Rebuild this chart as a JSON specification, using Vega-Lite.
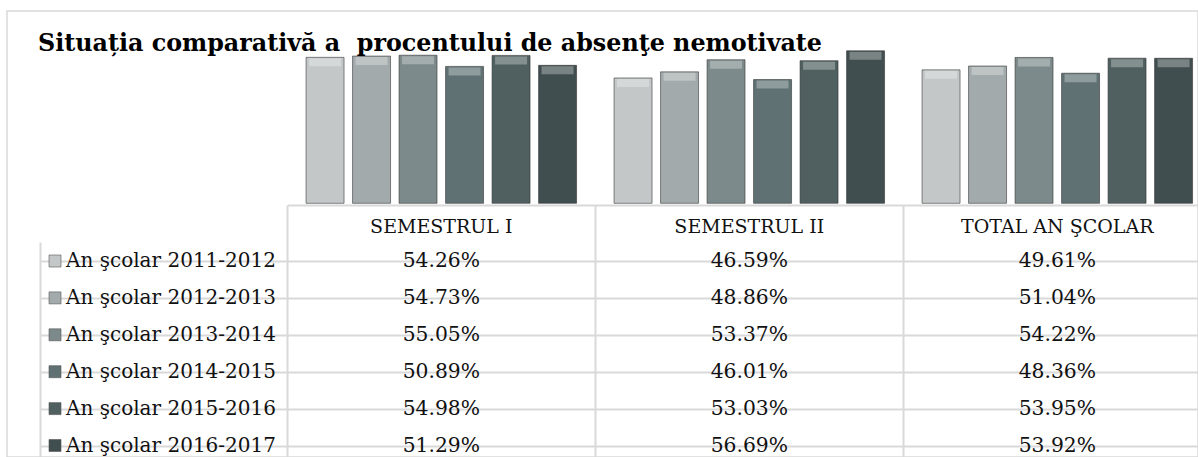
{
  "$schema": "https://vega.github.io/schema/vega-lite/v6.json",
  "width": 1191,
  "height": 446,
  "autosize": {"type": "none"},
  "padding": {"left": 7, "top": 11, "right": 0, "bottom": 0},
  "background": "white",
  "config": {"view": {"stroke": "#d9d9d9", "strokeWidth": 1.5}, "font": "DejaVu Serif"},
  "title": {
    "text": "Situația comparativă a\u00a0 procentului de absenţe nemotivate",
    "anchor": "start", "frame": "group", "orient": "top", "offset": 0,
    "baseline": "alphabetic", "dx": 31, "dy": 64,
    "font": "DejaVu Serif", "fontSize": 23.8, "fontWeight": "bold", "color": "#000000"
  },
  "data": {
    "values": [
      {"series": "An şcolar 2011-2012", "period": "SEMESTRUL I", "value": 0.5426},
      {"series": "An şcolar 2011-2012", "period": "SEMESTRUL II", "value": 0.4659},
      {"series": "An şcolar 2011-2012", "period": "TOTAL AN ŞCOLAR", "value": 0.4961},
      {"series": "An şcolar 2012-2013", "period": "SEMESTRUL I", "value": 0.5473},
      {"series": "An şcolar 2012-2013", "period": "SEMESTRUL II", "value": 0.4886},
      {"series": "An şcolar 2012-2013", "period": "TOTAL AN ŞCOLAR", "value": 0.5104},
      {"series": "An şcolar 2013-2014", "period": "SEMESTRUL I", "value": 0.5505},
      {"series": "An şcolar 2013-2014", "period": "SEMESTRUL II", "value": 0.5337},
      {"series": "An şcolar 2013-2014", "period": "TOTAL AN ŞCOLAR", "value": 0.5422},
      {"series": "An şcolar 2014-2015", "period": "SEMESTRUL I", "value": 0.5089},
      {"series": "An şcolar 2014-2015", "period": "SEMESTRUL II", "value": 0.4601},
      {"series": "An şcolar 2014-2015", "period": "TOTAL AN ŞCOLAR", "value": 0.4836},
      {"series": "An şcolar 2015-2016", "period": "SEMESTRUL I", "value": 0.5498},
      {"series": "An şcolar 2015-2016", "period": "SEMESTRUL II", "value": 0.5303},
      {"series": "An şcolar 2015-2016", "period": "TOTAL AN ŞCOLAR", "value": 0.5395},
      {"series": "An şcolar 2016-2017", "period": "SEMESTRUL I", "value": 0.5129},
      {"series": "An şcolar 2016-2017", "period": "SEMESTRUL II", "value": 0.5669},
      {"series": "An şcolar 2016-2017", "period": "TOTAL AN ŞCOLAR", "value": 0.5392}
    ]
  },
  "encoding": {
    "x": {
      "field": "period", "type": "nominal",
      "sort": ["SEMESTRUL I", "SEMESTRUL II", "TOTAL AN ŞCOLAR"],
      "scale": {"range": [280.3, 1204.3], "paddingInner": 0, "paddingOuter": 0},
      "axis": {
        "orient": "top", "offset": -194, "title": null,
        "domain": true, "domainColor": "#d9d9d9", "domainWidth": 2,
        "ticks": true, "tickColor": "#d9d9d9", "tickWidth": 2, "tickSize": -262,
        "bandPosition": 0, "labelOffset": 0, "labelAlign": "center",
        "labelBaseline": "alphabetic", "labelPadding": 235, "labelAngle": 0,
        "labelFont": "DejaVu Serif", "labelFontSize": 19, "labelColor": "#111111",
        "labelLimit": 400, "grid": false
      }
    }
  },
  "layer": [
    {
      "encoding": {
        "xOffset": {
          "field": "series", "type": "nominal",
          "scale": {"paddingInner": 0.183, "paddingOuter": 0.403}
        },
        "y": {
          "field": "value", "type": "quantitative",
          "scale": {"domain": [0, 0.6], "range": [192.3, 30.9], "nice": false, "zero": true},
          "axis": null
        }
      },
      "layer": [
        {
          "mark": {"type": "bar", "stroke": "#2e2e2e", "strokeWidth": 0.8, "strokeOpacity": 0.7},
          "encoding": {
            "color": {
              "field": "series", "type": "nominal",
              "scale": {"range": ["#c3c7c8", "#a3aaab", "#7d8a8b", "#5f7173", "#506060", "#414e4f"]},
              "legend": {
                "orient": "none", "legendX": 38, "legendY": 240, "title": null,
                "symbolType": "square", "symbolSize": 144,
                "symbolStrokeColor": "#555555", "symbolStrokeWidth": 0.6,
                "labelFont": "DejaVu Serif", "labelFontSize": 20, "labelColor": "#111111",
                "labelOffset": 1, "labelLimit": 300, "rowPadding": 16.9, "padding": 0,
                "direction": "vertical"
              }
            }
          }
        },
        {
          "mark": {"type": "tick", "orient": "horizontal", "color": "#ffffff", "opacity": 0.3, "thickness": 8, "size": 32, "yOffset": 5},
          "encoding": {}
        }
      ]
    },
    {
      "encoding": {
        "y": {
          "field": "series", "type": "nominal",
          "scale": {"range": [231, 454], "paddingInner": 0, "paddingOuter": 0},
          "axis": {
            "orient": "left", "offset": -33, "title": null, "labels": false,
            "domain": true, "domainColor": "#d9d9d9", "domainWidth": 2,
            "ticks": true, "tickSize": -1170, "tickColor": "#d9d9d9", "tickWidth": 2,
            "bandPosition": 0, "grid": false
          }
        }
      },
      "layer": [
        {
          "mark": {"type": "text", "font": "DejaVu Serif", "fontSize": 20.3, "color": "#111111", "baseline": "middle"},
          "encoding": {"text": {"field": "value", "type": "quantitative", "format": ".2%"}}
        }
      ]
    }
  ],
  "resolve": {"scale": {"y": "independent"}}
}
